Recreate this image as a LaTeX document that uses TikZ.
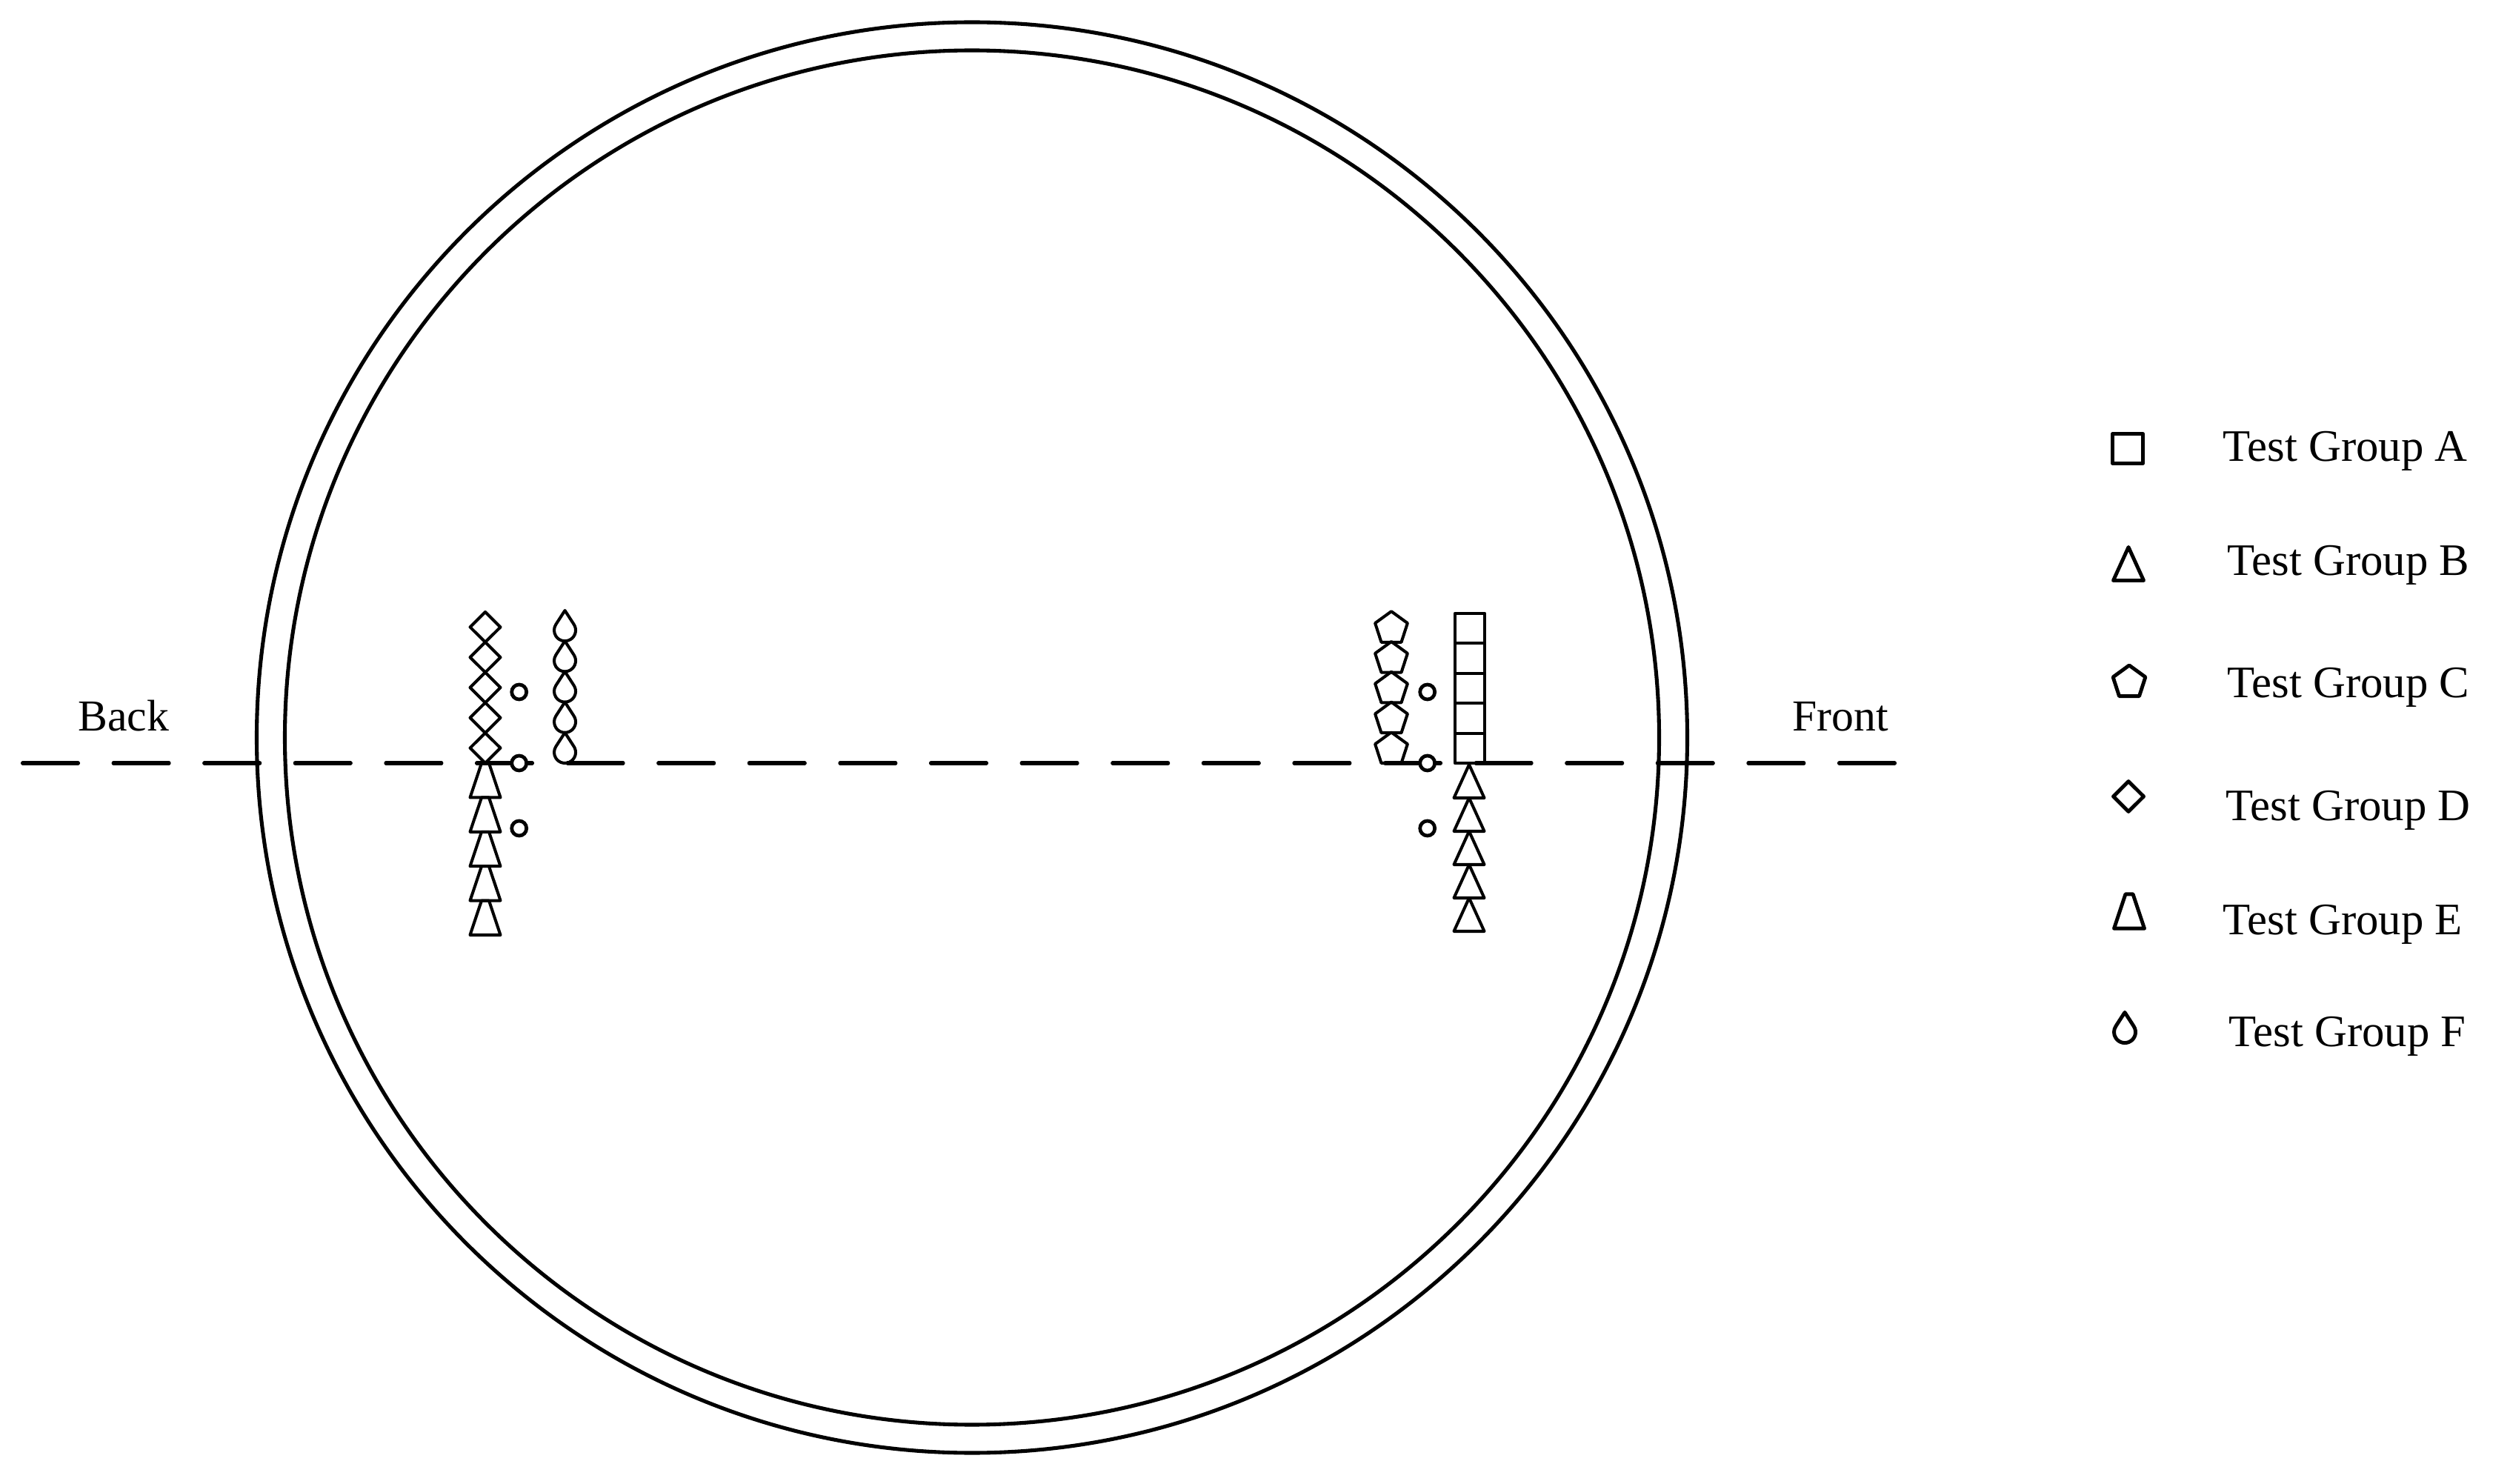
\documentclass[tikz,border=0pt]{standalone}
\usepackage{fontspec}
\setmainfont{Liberation Serif}
\tikzset{
	mk/.style={line width=1.15pt, line join=round},
	lbl/.style={inner sep=0pt, font=\fontsize{17}{20}\selectfont},
	grp/.style={lbl, anchor=base west, font=\fontsize{17.3}{20}\selectfont},
	pics/sqmark/.style={code={\draw[mk] (-0.202,-0.202) rectangle (0.202,0.202);}},
	pics/trimark/.style={code={\draw[mk] (0,0.225) -- (0.205,-0.225) -- (-0.205,-0.225) -- cycle;}},
	pics/pentmark/.style={code={\draw[mk] (90:0.23) -- (162:0.23) -- (234:0.23) -- (306:0.23) -- (18:0.23) -- cycle;}},
	pics/diamark/.style={code={\draw[mk] (0,0.204) -- (0.205,0) -- (0,-0.204) -- (-0.205,0) -- cycle;}},
	pics/trapmark/.style={code={\draw[mk] (-0.05,0.232) -- (0.05,0.232) -- (0.205,-0.232) -- (-0.205,-0.232) -- cycle;}},
	pics/dropmark/.style={code={\draw[mk] (0,0.206) -- (0.1218,0.0178) arc[start angle=32.9, end angle=-212.9, radius=0.145] -- cycle;}},
	ring/.style={line width=1.35pt, fill=white}
}

\begin{document}
\begin{tikzpicture}
	\useasboundingbox (0,0) rectangle (33.88,20.02);
	\draw [line width=1.45pt] (13.12,10.065) circle (9.655);
	\draw [line width=1.45pt] (13.12,10.065) circle (9.275);
	\draw [line width=1.45pt, line cap=round, dash pattern=on 0.75cm off 0.476cm] (0.305,9.72) -- (25.575,9.72);
	\node [lbl, anchor=base] (back) at (1.67,10.15) {Back};
	\node [lbl, anchor=base] (front) at (24.84,10.15) {Front};
	\foreach \k in {0,...,4} {
		\pic at (6.55,{9.924+0.408*\k}) {diamark};
		\pic at (6.55,{9.488-0.464*\k}) {trapmark};
		\pic at (7.625,{9.926+0.412*\k}) {dropmark};
		\pic at (18.78,{9.906+0.408*\k}) {pentmark};
		\pic at (19.84,{9.922+0.404*\k}) {sqmark};
		\pic at (19.83,{9.475-0.45*\k}) {trimark};
	}
	\foreach \y in {10.68,9.72,8.84} {
		\draw [ring] (7.007,\y) circle (0.1);
		\draw [ring] (19.267,\y) circle (0.1);
	}
	\begin{scope}[mk/.style={line width=1.4pt, line join=round}]
		\pic at (28.72,13.965) {sqmark};
		\pic at (28.73,12.41) {trimark};
		\pic at (28.74,10.81) {pentmark};
		\pic at (28.73,9.27) {diamark};
		\pic at (28.74,7.72) {trapmark};
		\pic at (28.68,6.15) {dropmark};
	\end{scope}
	\node [grp] (grpA) at (30.00,13.79) {Test Group A};
	\node [grp] (grpB) at (30.06,12.25) {Test Group B};
	\node [grp] (grpC) at (30.06,10.60) {Test Group C};
	\node [grp] (grpD) at (30.04,8.95) {Test Group D};
	\node [grp] (grpE) at (30.00,7.41) {Test Group E};
	\node [grp] (grpF) at (30.08,5.90) {Test Group F};
\end{tikzpicture}
\end{document}
